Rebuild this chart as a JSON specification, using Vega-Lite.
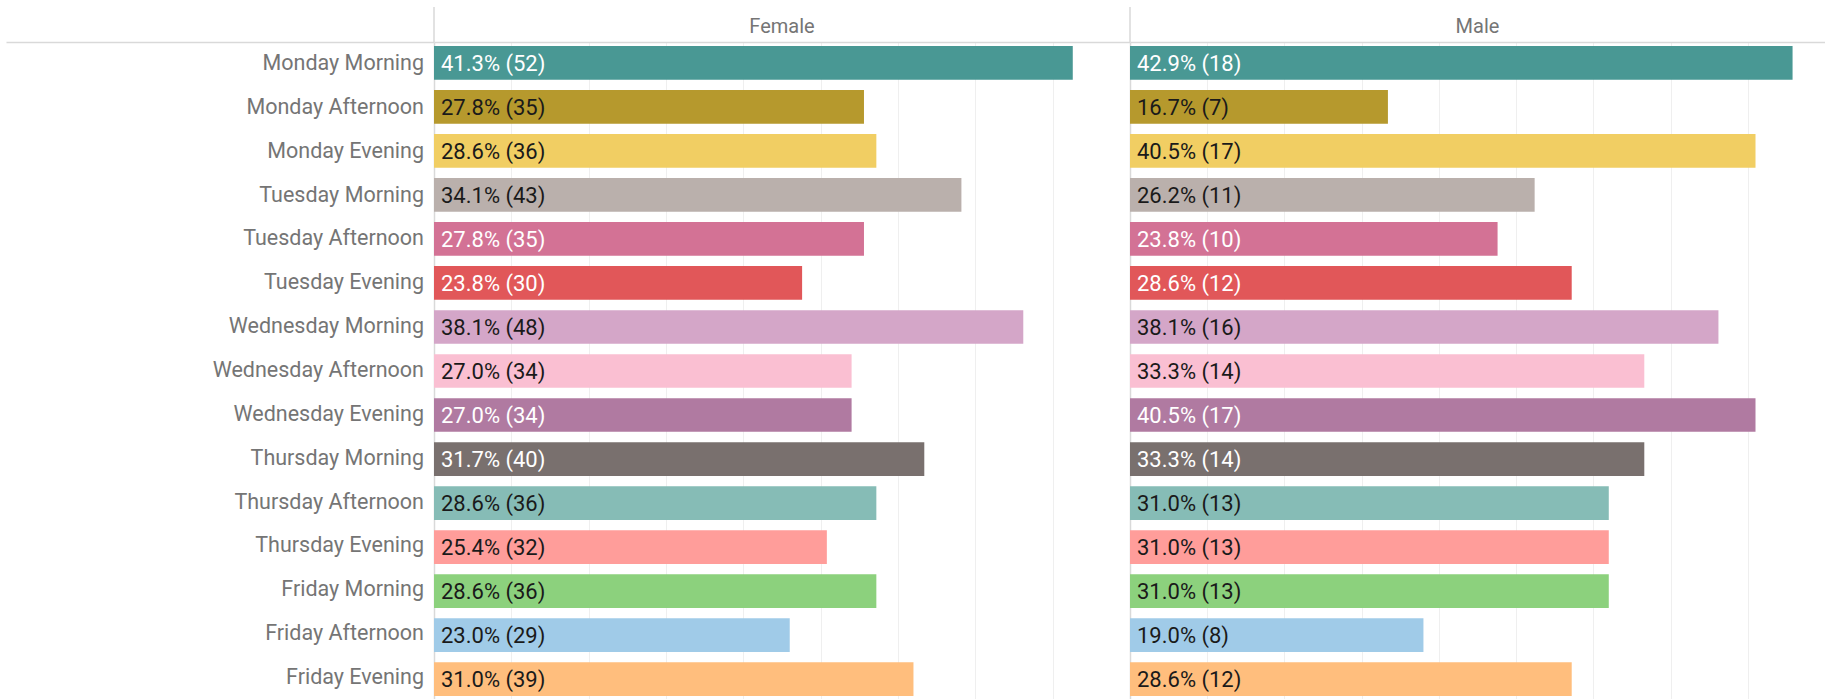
{
  "$schema": "https://vega.github.io/schema/vega-lite/v6.json",
  "padding": {"top": 6, "left": 6, "right": 0, "bottom": 0},
  "background": "white",
  "config": {
    "view": {"stroke": null},
    "font": "Roboto",
    "concat": {"spacing": 0}
  },
  "datasets": {
    "slots": [
      {"slot": "Monday Morning", "gender": "Female", "pct": 0.413, "n": 52},
      {"slot": "Monday Afternoon", "gender": "Female", "pct": 0.278, "n": 35},
      {"slot": "Monday Evening", "gender": "Female", "pct": 0.286, "n": 36},
      {"slot": "Tuesday Morning", "gender": "Female", "pct": 0.341, "n": 43},
      {"slot": "Tuesday Afternoon", "gender": "Female", "pct": 0.278, "n": 35},
      {"slot": "Tuesday Evening", "gender": "Female", "pct": 0.238, "n": 30},
      {"slot": "Wednesday Morning", "gender": "Female", "pct": 0.381, "n": 48},
      {"slot": "Wednesday Afternoon", "gender": "Female", "pct": 0.270, "n": 34},
      {"slot": "Wednesday Evening", "gender": "Female", "pct": 0.270, "n": 34},
      {"slot": "Thursday Morning", "gender": "Female", "pct": 0.317, "n": 40},
      {"slot": "Thursday Afternoon", "gender": "Female", "pct": 0.286, "n": 36},
      {"slot": "Thursday Evening", "gender": "Female", "pct": 0.254, "n": 32},
      {"slot": "Friday Morning", "gender": "Female", "pct": 0.286, "n": 36},
      {"slot": "Friday Afternoon", "gender": "Female", "pct": 0.230, "n": 29},
      {"slot": "Friday Evening", "gender": "Female", "pct": 0.310, "n": 39},
      {"slot": "Monday Morning", "gender": "Male", "pct": 0.429, "n": 18},
      {"slot": "Monday Afternoon", "gender": "Male", "pct": 0.167, "n": 7},
      {"slot": "Monday Evening", "gender": "Male", "pct": 0.405, "n": 17},
      {"slot": "Tuesday Morning", "gender": "Male", "pct": 0.262, "n": 11},
      {"slot": "Tuesday Afternoon", "gender": "Male", "pct": 0.238, "n": 10},
      {"slot": "Tuesday Evening", "gender": "Male", "pct": 0.286, "n": 12},
      {"slot": "Wednesday Morning", "gender": "Male", "pct": 0.381, "n": 16},
      {"slot": "Wednesday Afternoon", "gender": "Male", "pct": 0.333, "n": 14},
      {"slot": "Wednesday Evening", "gender": "Male", "pct": 0.405, "n": 17},
      {"slot": "Thursday Morning", "gender": "Male", "pct": 0.333, "n": 14},
      {"slot": "Thursday Afternoon", "gender": "Male", "pct": 0.310, "n": 13},
      {"slot": "Thursday Evening", "gender": "Male", "pct": 0.310, "n": 13},
      {"slot": "Friday Morning", "gender": "Male", "pct": 0.310, "n": 13},
      {"slot": "Friday Afternoon", "gender": "Male", "pct": 0.190, "n": 8},
      {"slot": "Friday Evening", "gender": "Male", "pct": 0.286, "n": 12}
    ]
  },
  "columns": 3,
  "spacing": 0,
  "bounds": "flush",
  "concat": [
    {
      "width": 428, "height": 35,
      "data": {"values": [{"t": ""}]},
      "mark": {"type": "text"},
      "encoding": {"text": {"field": "t"}}
    },
    {
      "width": 696, "height": 35,
      "data": {"values": [{"gender": "Female"}]},
      "layer": [
        {"mark": {"type": "rule", "color": "#d9d9d9", "strokeWidth": 1.5},
         "encoding": {"x": {"datum": 0, "type": "quantitative", "scale": {"domain": [0, 1]}, "axis": null}}},
        {"mark": {"type": "text", "fontSize": 20, "color": "#757575", "baseline": "middle", "dy": 2},
         "encoding": {"text": {"field": "gender"}}}
      ]
    },
    {
      "width": 695, "height": 35,
      "data": {"values": [{"gender": "Male"}]},
      "layer": [
        {"mark": {"type": "rule", "color": "#d9d9d9", "strokeWidth": 1.5},
         "encoding": {"x": {"datum": 0, "type": "quantitative", "scale": {"domain": [0, 1]}, "axis": null}}},
        {"mark": {"type": "text", "fontSize": 20, "color": "#757575", "baseline": "middle", "dy": 2},
         "encoding": {"text": {"field": "gender"}}}
      ]
    },
    {
      "width": 428, "height": 658,
      "data": {"name": "slots"},
      "transform": [{"filter": "datum.gender === 'Female'"}],
      "mark": {"type": "text", "fontSize": 21.5, "color": "#757575", "align": "right", "baseline": "middle", "dx": -10},
      "encoding": {
        "y": {"field": "slot", "type": "nominal", "sort": null, "axis": null,
              "scale": {"paddingInner": 0.235, "paddingOuter": 0.09}},
        "x": {"datum": 1, "type": "quantitative", "scale": {"domain": [0, 1]},
              "axis": {"orient": "top", "labels": false, "ticks": false, "grid": false, "domain": true,
                       "domainColor": "#d9d9d9", "domainWidth": 1.5, "title": null}},
        "text": {"field": "slot"}
      }
    },
    {
      "width": 696, "height": 658,
      "data": {"name": "slots"},
      "transform": [
        {"filter": "datum.gender === 'Female'"},
        {"calculate": "format(datum.pct, '.1%') + ' (' + datum.n + ')'", "as": "label"}
      ],
      "encoding": {
        "y": {"field": "slot", "type": "nominal", "sort": null,
              "scale": {"paddingInner": 0.235, "paddingOuter": 0.09},
              "axis": {"labels": false, "ticks": false, "grid": false, "domain": true,
                       "domainColor": "#d9d9d9", "domainWidth": 1.5, "title": null}}
      },
      "layer": [
        {
          "mark": {"type": "bar"},
          "encoding": {
            "x": {"field": "pct", "type": "quantitative",
                  "scale": {"domain": [0, 0.45], "nice": false},
                  "axis": {"orient": "top", "values": [0.05, 0.1, 0.15, 0.2, 0.25, 0.3, 0.35, 0.4],
                           "labels": false, "ticks": false, "grid": true, "gridColor": "#efefef", "gridWidth": 1,
                           "domain": true, "domainColor": "#d9d9d9", "domainWidth": 1.5, "title": null}},
            "color": {"field": "slot", "type": "nominal", "sort": null, "legend": null,
                      "scale": {"domain": ["Monday Morning","Monday Afternoon","Monday Evening","Tuesday Morning","Tuesday Afternoon","Tuesday Evening","Wednesday Morning","Wednesday Afternoon","Wednesday Evening","Thursday Morning","Thursday Afternoon","Thursday Evening","Friday Morning","Friday Afternoon","Friday Evening"],
                                "range": ["#499894","#B6992D","#F1CE63","#BAB0AC","#D37295","#E15759","#D4A6C8","#FABFD2","#B07AA1","#79706E","#86BCB6","#FF9D9A","#8CD17D","#A0CBE8","#FFBE7D"]}}
          }
        },
        {
          "mark": {"type": "text", "fontSize": 22, "align": "left", "baseline": "middle", "dx": 7, "dy": 1},
          "encoding": {
            "x": {"datum": 0, "type": "quantitative"},
            "text": {"field": "label"},
            "fill": {"field": "slot", "type": "nominal", "legend": null,
                     "scale": {"domain": ["Monday Morning","Monday Afternoon","Monday Evening","Tuesday Morning","Tuesday Afternoon","Tuesday Evening","Wednesday Morning","Wednesday Afternoon","Wednesday Evening","Thursday Morning","Thursday Afternoon","Thursday Evening","Friday Morning","Friday Afternoon","Friday Evening"],
                               "range": ["#ffffff","#1a1a1a","#1a1a1a","#1a1a1a","#ffffff","#ffffff","#1a1a1a","#1a1a1a","#ffffff","#ffffff","#1a1a1a","#1a1a1a","#1a1a1a","#1a1a1a","#1a1a1a"]}}
          }
        }
      ]
    },
    {
      "width": 695, "height": 658,
      "data": {"name": "slots"},
      "transform": [
        {"filter": "datum.gender === 'Male'"},
        {"calculate": "format(datum.pct, '.1%') + ' (' + datum.n + ')'", "as": "label"}
      ],
      "encoding": {
        "y": {"field": "slot", "type": "nominal", "sort": null,
              "scale": {"paddingInner": 0.235, "paddingOuter": 0.09},
              "axis": {"labels": false, "ticks": false, "grid": false, "domain": true,
                       "domainColor": "#d9d9d9", "domainWidth": 1.5, "title": null}}
      },
      "layer": [
        {
          "mark": {"type": "bar"},
          "encoding": {
            "x": {"field": "pct", "type": "quantitative",
                  "scale": {"domain": [0, 0.45], "nice": false},
                  "axis": {"orient": "top", "values": [0.05, 0.1, 0.15, 0.2, 0.25, 0.3, 0.35, 0.4],
                           "labels": false, "ticks": false, "grid": true, "gridColor": "#efefef", "gridWidth": 1,
                           "domain": true, "domainColor": "#d9d9d9", "domainWidth": 1.5, "title": null}},
            "color": {"field": "slot", "type": "nominal", "sort": null, "legend": null,
                      "scale": {"domain": ["Monday Morning","Monday Afternoon","Monday Evening","Tuesday Morning","Tuesday Afternoon","Tuesday Evening","Wednesday Morning","Wednesday Afternoon","Wednesday Evening","Thursday Morning","Thursday Afternoon","Thursday Evening","Friday Morning","Friday Afternoon","Friday Evening"],
                                "range": ["#499894","#B6992D","#F1CE63","#BAB0AC","#D37295","#E15759","#D4A6C8","#FABFD2","#B07AA1","#79706E","#86BCB6","#FF9D9A","#8CD17D","#A0CBE8","#FFBE7D"]}}
          }
        },
        {
          "mark": {"type": "text", "fontSize": 22, "align": "left", "baseline": "middle", "dx": 7, "dy": 1},
          "encoding": {
            "x": {"datum": 0, "type": "quantitative"},
            "text": {"field": "label"},
            "fill": {"field": "slot", "type": "nominal", "legend": null,
                     "scale": {"domain": ["Monday Morning","Monday Afternoon","Monday Evening","Tuesday Morning","Tuesday Afternoon","Tuesday Evening","Wednesday Morning","Wednesday Afternoon","Wednesday Evening","Thursday Morning","Thursday Afternoon","Thursday Evening","Friday Morning","Friday Afternoon","Friday Evening"],
                               "range": ["#ffffff","#1a1a1a","#1a1a1a","#1a1a1a","#ffffff","#ffffff","#1a1a1a","#1a1a1a","#ffffff","#ffffff","#1a1a1a","#1a1a1a","#1a1a1a","#1a1a1a","#1a1a1a"]}}
          }
        }
      ]
    }
  ]
}
